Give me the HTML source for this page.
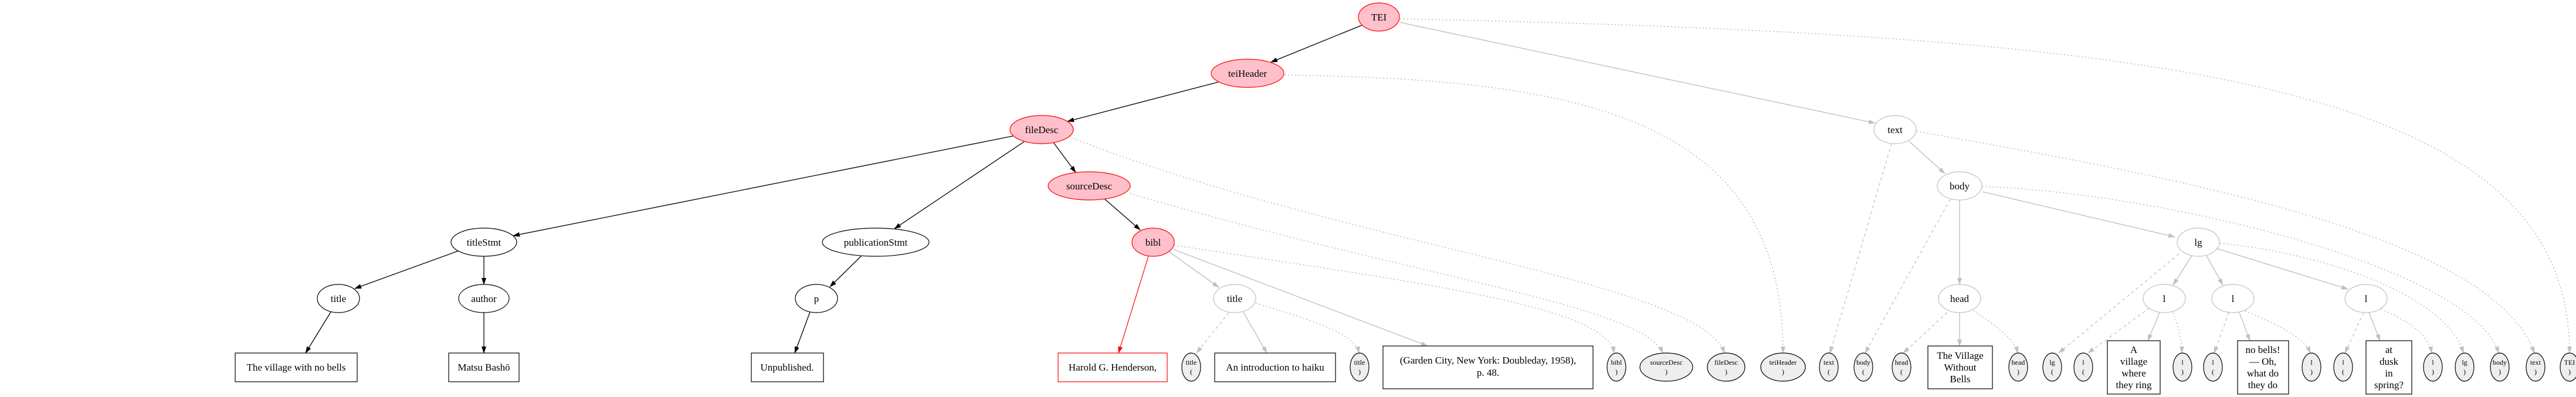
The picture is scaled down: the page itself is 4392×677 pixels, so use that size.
<!DOCTYPE html>
<html><head><meta charset="utf-8"><style>
html,body{margin:0;padding:0;background:#fff}
svg{display:block}
text{font-family:"Liberation Serif",serif;text-anchor:middle;fill:#000}
.n{font-size:17px}
.s{font-size:12px}
</style></head><body>
<svg width="4392" height="677" viewBox="0 0 4392 677" xmlns="http://www.w3.org/2000/svg">
<defs>
<marker id="ab" markerWidth="12" markerHeight="8" refX="11" refY="4" orient="auto" markerUnits="userSpaceOnUse"><path d="M0,0 L12,4 L0,8 z" fill="#000"/></marker>
<marker id="ar" markerWidth="12" markerHeight="8" refX="11" refY="4" orient="auto" markerUnits="userSpaceOnUse"><path d="M0,0 L12,4 L0,8 z" fill="#f00"/></marker>
<marker id="ag" markerWidth="12" markerHeight="8" refX="11" refY="4" orient="auto" markerUnits="userSpaceOnUse"><path d="M0,0 L12,4 L0,8 z" fill="#c0c0c0"/></marker>
</defs>

<g stroke="#000" stroke-width="1.3" fill="none" marker-end="url(#ab)">
<line x1="2322" y1="43" x2="2167" y2="106"/>
<line x1="2077" y1="140" x2="1820" y2="207"/>
<line x1="1727" y1="232" x2="875" y2="402"/>
<line x1="1747" y1="241" x2="1525" y2="390"/>
<line x1="1796" y1="243" x2="1834" y2="294"/>
<line x1="1883" y1="339" x2="1944" y2="392"/>
<line x1="781" y1="428" x2="605" y2="492"/>
<line x1="825" y1="437" x2="825" y2="485"/>
<line x1="564" y1="532" x2="521" y2="602"/>
<line x1="825" y1="533" x2="825" y2="602"/>
<line x1="1469" y1="436" x2="1415" y2="489"/>
<line x1="1381" y1="532" x2="1355" y2="602"/>
</g>
<line x1="1958" y1="437" x2="1907" y2="602" stroke="#f00" stroke-width="1.2" marker-end="url(#ar)"/>

<g stroke="#c0c0c0" stroke-width="1.4" fill="none" marker-end="url(#ag)">
<line x1="1993" y1="429" x2="2078" y2="490"/>
<line x1="2000" y1="425" x2="2434" y2="590"/>
<line x1="2119" y1="531" x2="2160" y2="602"/>
<line x1="2386" y1="38" x2="3197" y2="210"/>
<line x1="3255" y1="241" x2="3316" y2="296"/>
<line x1="3341" y1="341" x2="3341" y2="485"/>
<line x1="3380" y1="327" x2="3708" y2="404"/>
<line x1="3341" y1="533" x2="3341" y2="590"/>
<line x1="3737" y1="436" x2="3705" y2="486"/>
<line x1="3762" y1="436" x2="3790" y2="486"/>
<line x1="3780" y1="424" x2="4003" y2="493"/>
<line x1="3682" y1="533" x2="3662" y2="581"/>
<line x1="3818" y1="533" x2="3836" y2="581"/>
<line x1="4039" y1="533" x2="4058" y2="581"/>
</g>

<g stroke="#c0c0c0" stroke-width="1.3" fill="none" stroke-dasharray="5,5" marker-end="url(#ag)">
<line x1="2095" y1="533" x2="2040" y2="602"/>
<line x1="3225" y1="245" x2="3120" y2="602"/>
<line x1="3325" y1="340" x2="3180" y2="602"/>
<line x1="3320" y1="533" x2="3245" y2="602"/>
<line x1="3715" y1="433" x2="3510" y2="602"/>
<line x1="3665" y1="525" x2="3560" y2="602"/>
<line x1="3800" y1="533" x2="3775" y2="602"/>
<line x1="4030" y1="533" x2="3998" y2="602"/>
</g>

<g stroke="#b8b8b8" stroke-width="1.5" fill="none" stroke-dasharray="2,4" marker-end="url(#ag)">
<path d="M2387,32 C3700,60 4381,140 4381,602"/>
<path d="M2190,128 C2700,135 3040,200 3040,602"/>
<path d="M1830,236 C2300,420 2900,480 2940,602"/>
<path d="M1927,330 C2400,470 2800,520 2835,602"/>
<path d="M2002,418 C2400,480 2740,520 2752,602"/>
<path d="M2141,517 C2250,550 2310,570 2317,602"/>
<path d="M3268,224 C3700,300 4250,400 4321,602"/>
<path d="M3380,318 C3700,330 4220,460 4260,602"/>
<path d="M3785,415 C3950,430 4170,500 4200,602"/>
<path d="M4060,527 C4110,550 4140,570 4146,602"/>
<path d="M3705,533 C3715,560 3720,580 3720,602"/>
<path d="M3828,530 C3900,560 3930,580 3939,602"/>
<path d="M3365,530 C3410,560 3435,580 3440,602"/>
</g>

<g fill="#ffc0cb" stroke="#f00" stroke-width="1.2">
<ellipse cx="2351" cy="29" rx="35" ry="24"/>
<ellipse cx="2127" cy="125" rx="62" ry="24"/>
<ellipse cx="1776" cy="221" rx="54" ry="24"/>
<ellipse cx="1857" cy="317" rx="70" ry="24"/>
<ellipse cx="1966" cy="413" rx="36" ry="24"/>
</g>
<g fill="#fff" stroke="#000" stroke-width="1.2">
<ellipse cx="825" cy="413" rx="56" ry="24"/>
<ellipse cx="1493" cy="413" rx="91" ry="24"/>
<ellipse cx="577" cy="509" rx="36" ry="24"/>
<ellipse cx="825" cy="509" rx="43" ry="24"/>
<ellipse cx="1392" cy="509" rx="36" ry="24"/>
</g>
<g fill="#fff" stroke="#c0c0c0" stroke-width="1.2">
<ellipse cx="2105" cy="509" rx="36" ry="24"/>
<ellipse cx="3231" cy="221" rx="36" ry="24"/>
<ellipse cx="3341" cy="317" rx="38" ry="24"/>
<ellipse cx="3748" cy="413" rx="36" ry="24"/>
<ellipse cx="3341" cy="509" rx="36" ry="24"/>
<ellipse cx="3690" cy="509" rx="36" ry="24"/>
<ellipse cx="3807" cy="509" rx="36" ry="24"/>
<ellipse cx="4034" cy="509" rx="36" ry="24"/>
</g>
<g fill="#eee" stroke="#000" stroke-width="1.2">
<ellipse cx="2031" cy="626" rx="16" ry="24"/>
<ellipse cx="2318" cy="626" rx="16" ry="24"/>
<ellipse cx="2756" cy="626" rx="16" ry="24"/>
<ellipse cx="2841" cy="626" rx="45" ry="24"/>
<ellipse cx="2943" cy="626" rx="32" ry="24"/>
<ellipse cx="3040" cy="626" rx="38" ry="24"/>
<ellipse cx="3118" cy="626" rx="16" ry="24"/>
<ellipse cx="3177" cy="626" rx="16" ry="24"/>
<ellipse cx="3242" cy="626" rx="16" ry="24"/>
<ellipse cx="3441" cy="626" rx="16" ry="24"/>
<ellipse cx="3499" cy="626" rx="16" ry="24"/>
<ellipse cx="3552" cy="626" rx="16" ry="24"/>
<ellipse cx="3721" cy="626" rx="16" ry="24"/>
<ellipse cx="3773" cy="626" rx="16" ry="24"/>
<ellipse cx="3941" cy="626" rx="16" ry="24"/>
<ellipse cx="3995" cy="626" rx="16" ry="24"/>
<ellipse cx="4148" cy="626" rx="16" ry="24"/>
<ellipse cx="4202" cy="626" rx="16" ry="24"/>
<ellipse cx="4262" cy="626" rx="16" ry="24"/>
<ellipse cx="4323" cy="626" rx="16" ry="24"/>
<ellipse cx="4381" cy="626" rx="16" ry="24"/>
</g>
<g fill="#fff" stroke="#000" stroke-width="1.2">
<rect x="401" y="602" width="208" height="49"/>
<rect x="765" y="602" width="120" height="49"/>
<rect x="1281" y="602" width="123" height="49"/>
<rect x="2071" y="602" width="206" height="49"/>
<rect x="2358" y="590" width="358" height="73"/>
<rect x="3287" y="590" width="110" height="73"/>
<rect x="3593" y="581" width="90" height="91"/>
<rect x="3815" y="581" width="87" height="91"/>
<rect x="4034" y="581" width="78" height="91"/>
</g>
<rect x="1804" y="602" width="186" height="49" fill="#fff" stroke="#f00" stroke-width="1.2"/>

<g class="n">
<text x="2351" y="35">TEI</text>
<text x="2127" y="131">teiHeader</text>
<text x="1776" y="227">fileDesc</text>
<text x="1857" y="323">sourceDesc</text>
<text x="1966" y="419">bibl</text>
<text x="825" y="419">titleStmt</text>
<text x="1493" y="419">publicationStmt</text>
<text x="577" y="515">title</text>
<text x="825" y="515">author</text>
<text x="1392" y="515">p</text>
<text x="2105" y="515">title</text>
<text x="3231" y="227">text</text>
<text x="3341" y="323">body</text>
<text x="3748" y="419">lg</text>
<text x="3341" y="515">head</text>
<text x="3690" y="515">l</text>
<text x="3807" y="515">l</text>
<text x="4034" y="515">l</text>
<text x="505" y="632">The village with no bells</text>
<text x="825" y="632">Matsu Bashō</text>
<text x="1342" y="632">Unpublished.</text>
<text x="1897" y="632">Harold G. Henderson,</text>
<text x="2174" y="632">An introduction to haiku</text>
<text x="2537" y="620">(Garden City, New York: Doubleday, 1958),</text>
<text x="2537" y="641">p. 48.</text>
<text x="3342" y="612">The Village</text>
<text x="3342" y="632">Without</text>
<text x="3342" y="652">Bells</text>
<text x="3638" y="602">A</text>
<text x="3638" y="622">village</text>
<text x="3638" y="642">where</text>
<text x="3638" y="662">they ring</text>
<text x="3858" y="602">no bells!</text>
<text x="3858" y="622">— Oh,</text>
<text x="3858" y="642">what do</text>
<text x="3858" y="662">they do</text>
<text x="4073" y="602">at</text>
<text x="4073" y="622">dusk</text>
<text x="4073" y="642">in</text>
<text x="4073" y="662">spring?</text>
</g>
<g class="s">
<text x="2031" y="622">title</text><text x="2031" y="638">(</text>
<text x="2318" y="622">title</text><text x="2318" y="638">)</text>
<text x="2756" y="622">bibl</text><text x="2756" y="638">)</text>
<text x="2841" y="622">sourceDesc</text><text x="2841" y="638">)</text>
<text x="2943" y="622">fileDesc</text><text x="2943" y="638">)</text>
<text x="3040" y="622">teiHeader</text><text x="3040" y="638">)</text>
<text x="3118" y="622">text</text><text x="3118" y="638">(</text>
<text x="3177" y="622">body</text><text x="3177" y="638">(</text>
<text x="3242" y="622">head</text><text x="3242" y="638">(</text>
<text x="3441" y="622">head</text><text x="3441" y="638">)</text>
<text x="3499" y="622">lg</text><text x="3499" y="638">(</text>
<text x="3552" y="622">l</text><text x="3552" y="638">(</text>
<text x="3721" y="622">l</text><text x="3721" y="638">)</text>
<text x="3773" y="622">l</text><text x="3773" y="638">(</text>
<text x="3941" y="622">l</text><text x="3941" y="638">)</text>
<text x="3995" y="622">l</text><text x="3995" y="638">(</text>
<text x="4148" y="622">l</text><text x="4148" y="638">)</text>
<text x="4202" y="622">lg</text><text x="4202" y="638">)</text>
<text x="4262" y="622">body</text><text x="4262" y="638">)</text>
<text x="4323" y="622">text</text><text x="4323" y="638">)</text>
<text x="4381" y="622">TEI</text><text x="4381" y="638">)</text>
</g>
</svg>
</body></html>
